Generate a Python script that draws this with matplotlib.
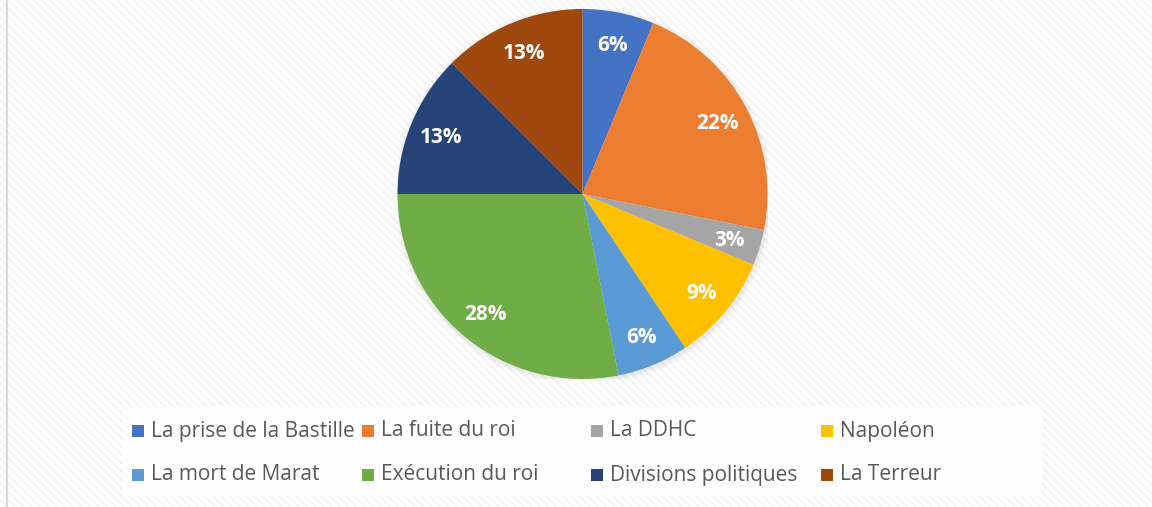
import math
import matplotlib
matplotlib.use("Agg")
import matplotlib.pyplot as plt
from matplotlib.patches import Rectangle, Circle
from matplotlib.lines import Line2D

# slices (counts, read from the percentages: out of 32)
labels = ["La prise de la Bastille", "La fuite du roi", "La DDHC", "Napoléon",
          "La mort de Marat", "Exécution du roi", "Divisions politiques", "La Terreur"]
counts = [2, 7, 1, 3, 2, 9, 4, 4]
colors = ["#4472C4", "#ED7D31", "#A5A5A5", "#FFC000",
          "#5B9BD5", "#70AD47", "#264478", "#9E480E"]

plt.rcParams['font.family'] = ['Open Sans', 'DejaVu Sans']
plt.rcParams['hatch.linewidth'] = 1.6

W, H = 1152, 507
fig = plt.figure(figsize=(W/100, H/100), dpi=100)

# excel-like striped background
bg = Rectangle((0, 0), 1, 1, transform=fig.transFigure, facecolor="white",
               edgecolor="#f4f4f4", hatch="\\\\\\\\", linewidth=0, zorder=-10)
fig.patches.append(bg)
fig.lines.append(Line2D([6.5/W, 6.5/W], [0, 1], transform=fig.transFigure,
                        color="#d9d9d9", lw=1.5))

# pie axes
cx, cy, r = 582.5, 194, 185
ax = fig.add_axes([(cx-r)/W, (H-cy-r)/H, 2*r/W, 2*r/H])
ax.axis("off")

def pct(p):
    return "%d%%" % math.floor(p + 0.5 + 1e-9)

wedges, texts = ax.pie(counts, colors=colors, startangle=90, counterclock=False,
                       radius=1, wedgeprops=dict(linewidth=0, zorder=1))[:2]
ax.set_xlim(-1, 1)
ax.set_ylim(-1, 1)
ax.set_aspect("equal")

# soft shadow
for k, a in [(1.03, 0.03), (1.018, 0.05), (1.007, 0.08)]:
    ax.add_patch(Circle((0.006, -0.01), k, color="#888888", alpha=a, lw=0, zorder=0))

tot = sum(counts)
ang = 90.0
for c in counts:
    frac = c / tot
    mid = math.radians(ang - 180 * frac)
    ax.text(0.83 * math.cos(mid), 0.83 * math.sin(mid) - 0.01, pct(100 * frac),
            ha="center", va="center", color="white", fontsize=15, fontweight="bold", zorder=3)
    ang -= 360 * frac

# legend box (equal width columns like Excel)
fig.patches.append(Rectangle((122/W, 1-496/H), 920/W, 89/H, transform=fig.transFigure,
                             facecolor="white", alpha=0.85, lw=0, zorder=-5))
col_x = [132, 362, 591, 821]
row_y = [431, 475]
for i, lab in enumerate(labels):
    x = col_x[i % 4]
    y = row_y[i // 4]
    fig.patches.append(Rectangle((x/W, 1-(y+6)/H), 12/W, 12/H, transform=fig.transFigure,
                                 facecolor=colors[i], lw=0))
    fig.text((x+19)/W, 1-y/H, lab, ha="left", va="center", fontsize=15, color="#595959")

fig.savefig("out.png", dpi=100)
